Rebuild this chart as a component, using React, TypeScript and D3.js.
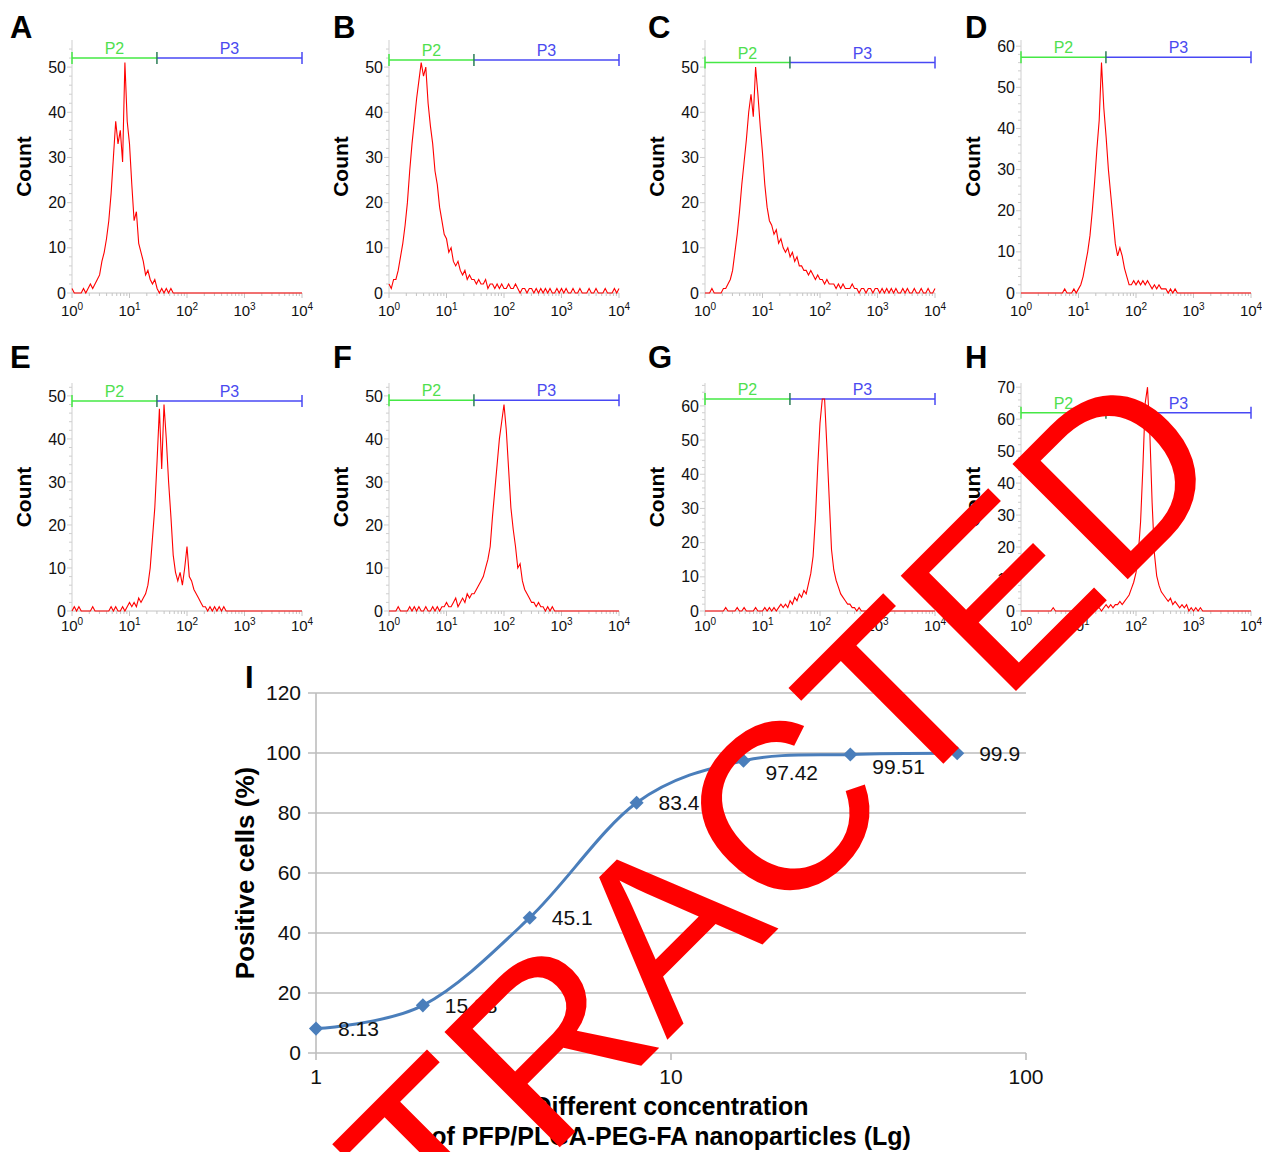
import { useEffect, useRef } from 'react';
import * as d3 from 'd3';

// flow cytometry histograms, one count per channel (channel i sits at 10^(i * channelStep))
const panelLetters = ['A', 'B', 'C', 'D', 'E', 'F', 'G', 'H'];
const channelStep = 0.04;

const countsA = [
  1, 0, 0, 0, 0, 1, 0, 1, 2, 1,
  2, 3, 4, 7, 9, 12, 16, 22, 30, 38,
  33, 36, 29, 51, 38, 33, 24, 16, 18, 11,
  9, 7, 4, 5, 3, 2, 3, 1, 0, 1,
  0, 1, 0, 1, 0, 0, 0, 0, 0, 0,
  0, 0, 0, 0, 0, 0, 0, 0, 0, 0,
  0, 0, 0, 0, 0, 0, 0, 0, 0, 0,
  0, 0, 0, 0, 0, 0, 0, 0, 0, 0,
  0, 0, 0, 0, 0, 0, 0, 0, 0, 0,
  0, 0, 0, 0, 0, 0, 0, 0, 0, 0,
  0,
];
const countsB = [
  2, 1, 3, 3, 5, 8, 11, 15, 20, 27,
  33, 38, 43, 47, 51, 48, 50, 42, 37, 33,
  27, 24, 19, 16, 13, 12, 9, 10, 7, 6,
  7, 5, 4, 5, 3, 4, 3, 3, 2, 3,
  2, 2, 3, 1, 2, 2, 1, 2, 1, 2,
  1, 1, 2, 1, 1, 2, 1, 0, 1, 1,
  0, 1, 1, 0, 1, 0, 1, 0, 1, 0,
  1, 0, 0, 1, 0, 1, 0, 1, 0, 0,
  1, 0, 0, 1, 0, 0, 0, 1, 0, 0,
  1, 0, 0, 0, 1, 0, 0, 0, 1, 0,
  1,
];
const countsC = [
  0, 0, 0, 1, 0, 0, 0, 0, 1, 1,
  2, 3, 5, 9, 13, 18, 24, 29, 34, 40,
  44, 39, 50, 44, 37, 31, 24, 19, 16, 15,
  13, 14, 11, 12, 10, 9, 10, 8, 9, 7,
  8, 6, 6, 5, 5, 4, 5, 4, 3, 4,
  3, 3, 2, 3, 2, 2, 2, 1, 2, 1,
  2, 1, 1, 1, 2, 1, 1, 0, 1, 1,
  0, 1, 1, 0, 1, 1, 0, 1, 0, 1,
  0, 1, 0, 1, 0, 0, 1, 0, 1, 0,
  0, 1, 0, 0, 1, 0, 0, 1, 0, 0,
  1,
];
const countsD = [
  0, 0, 0, 0, 0, 0, 0, 0, 0, 0,
  0, 0, 0, 0, 0, 0, 0, 0, 0, 1,
  0, 0, 0, 1, 0, 1, 2, 4, 7, 10,
  14, 20, 27, 35, 42, 56, 45, 38, 30, 24,
  18, 12, 9, 11, 9, 6, 4, 2, 2, 3,
  2, 3, 2, 3, 2, 3, 2, 1, 2, 1,
  2, 1, 1, 1, 0, 1, 0, 1, 0, 0,
  0, 0, 0, 0, 0, 0, 0, 0, 0, 0,
  0, 0, 0, 0, 0, 0, 0, 0, 0, 0,
  0, 0, 0, 0, 0, 0, 0, 0, 0, 0,
  0,
];
const countsE = [
  0, 1, 0, 1, 0, 0, 0, 0, 0, 1,
  0, 0, 0, 0, 0, 0, 0, 1, 0, 1,
  0, 0, 1, 0, 1, 2, 1, 2, 1, 3,
  2, 3, 4, 6, 10, 17, 24, 35, 47, 33,
  48, 40, 30, 22, 13, 9, 7, 9, 6, 10,
  15, 8, 7, 5, 4, 3, 2, 1, 1, 0,
  1, 0, 1, 0, 1, 0, 1, 0, 0, 0,
  0, 0, 0, 0, 0, 0, 0, 0, 0, 0,
  0, 0, 0, 0, 0, 0, 0, 0, 0, 0,
  0, 0, 0, 0, 0, 0, 0, 0, 0, 0,
  0,
];
const countsF = [
  0, 0, 0, 0, 1, 0, 0, 0, 0, 1,
  0, 1, 0, 1, 0, 0, 1, 0, 0, 1,
  0, 1, 0, 1, 1, 2, 1, 1, 2, 3,
  1, 2, 3, 2, 4, 3, 4, 4, 5, 6,
  7, 8, 10, 12, 15, 22, 28, 34, 40, 44,
  48, 42, 33, 24, 19, 15, 10, 11, 7, 5,
  4, 3, 2, 2, 1, 2, 1, 1, 0, 1,
  0, 1, 0, 0, 0, 0, 0, 0, 0, 0,
  0, 0, 0, 0, 0, 0, 0, 0, 0, 0,
  0, 0, 0, 0, 0, 0, 0, 0, 0, 0,
  0,
];
const countsG = [
  0, 0, 0, 0, 0, 0, 0, 0, 0, 1,
  0, 0, 0, 0, 1, 0, 0, 1, 0, 0,
  0, 0, 1, 0, 0, 0, 1, 0, 1, 0,
  1, 0, 1, 2, 1, 2, 1, 3, 2, 4,
  3, 5, 4, 6, 5, 8, 11, 16, 27, 42,
  55, 62, 62, 48, 33, 18, 12, 9, 7, 5,
  4, 3, 2, 2, 1, 1, 0, 1, 0, 0,
  0, 0, 0, 0, 0, 0, 0, 0, 0, 0,
  0, 0, 0, 0, 0, 0, 0, 0, 0, 0,
  0, 0, 0, 0, 0, 0, 0, 0, 0, 0,
  0,
];
const countsH = [
  0, 0, 0, 0, 0, 0, 0, 0, 0, 0,
  0, 0, 0, 0, 1, 0, 0, 0, 0, 0,
  0, 0, 0, 0, 0, 0, 0, 0, 0, 0,
  0, 1, 0, 1, 1, 0, 1, 2, 1, 2,
  1, 2, 2, 3, 2, 3, 4, 5, 7, 9,
  12, 18, 28, 45, 65, 70, 56, 34, 18, 11,
  8, 6, 5, 4, 3, 4, 2, 3, 2, 1,
  2, 1, 2, 0, 1, 0, 1, 0, 1, 0,
  0, 0, 0, 0, 0, 0, 0, 0, 0, 0,
  0, 0, 0, 0, 0, 0, 0, 0, 0, 0,
  0,
];
const panelCounts = [countsA, countsB, countsC, countsD, countsE, countsF, countsG, countsH];
const countMax = [56, 56, 56, 61.5, 53, 53, 66.7, 71.3];
const gateLevel = [52, 51.6, 51, 57.3, 48.8, 49, 62, 62];
const gateNames = ['P2', 'P3'];
const gateBounds = [1, 30, 10000];
const decadeTicks = [1, 10, 100, 1000, 10000];

// panel I
const concentration = [1, 2, 4, 8, 16, 32, 64];
const positiveCells = [8.13, 15.88, 45.1, 83.4, 97.42, 99.51, 99.9];
const percentTicks = [0, 20, 40, 60, 80, 100, 120];
const concentrationTicks = [1, 10, 100];

const FONT = 'Arial, "Liberation Sans", Helvetica, sans-serif';
const colX = [72, 389, 705, 1021];
const letterX = [10, 333, 648, 965];
const rowBase = [293, 611];
const rowTop = [40, 383];
const letterY = [38, 368];
const tickLabelDy = [23, 20];
const plotW = 230;

export default function App() {
  const ref = useRef<SVGSVGElement>(null);

  useEffect(() => {
    const svg = d3.select(ref.current);
    svg.selectAll('*').remove();

    panelCounts.forEach((counts, p) => {
      const col = p % 4;
      const row = Math.floor(p / 4);
      const x0 = colX[col];
      const yBase = rowBase[row];
      const yTop = rowTop[row];
      const x = d3.scaleLog().domain([1, 1e4]).range([x0, x0 + plotW]);
      const y = d3.scaleLinear().domain([0, countMax[p]]).range([yBase, yTop]);
      const g = svg.append('g').style('font-family', FONT);

      g.append('text')
        .attr('x', letterX[col]).attr('y', letterY[row])
        .attr('font-size', 31).attr('font-weight', 'bold')
        .text(panelLetters[p]);

      // y axis
      g.append('line')
        .attr('x1', x0).attr('x2', x0).attr('y1', yBase).attr('y2', yTop)
        .attr('stroke', '#cfcfcf');
      d3.range(0, countMax[p], 2).forEach(v => {
        g.append('line')
          .attr('x1', x0 - (v % 10 === 0 ? 5 : 3)).attr('x2', x0)
          .attr('y1', y(v)).attr('y2', y(v))
          .attr('stroke', '#cfcfcf');
      });
      d3.range(0, countMax[p], 10).forEach(v => {
        g.append('text')
          .attr('x', x0 - 6).attr('y', y(v)).attr('dy', '0.35em')
          .attr('text-anchor', 'end').attr('font-size', 16).attr('fill', '#111')
          .text(v);
      });
      g.append('text')
        .attr('transform', `translate(${x0 - 41},${(yBase + yTop) / 2}) rotate(-90)`)
        .attr('text-anchor', 'middle').attr('font-size', 21).attr('font-weight', 'bold')
        .text('Count');

      // x axis
      g.append('line')
        .attr('x1', x0).attr('x2', x0 + plotW).attr('y1', yBase).attr('y2', yBase)
        .attr('stroke', '#c4c4c4');
      decadeTicks.forEach((d, i) => {
        const mult = i < decadeTicks.length - 1 ? d3.range(2, 10) : [];
        mult.forEach(m => {
          g.append('line')
            .attr('x1', x(d * m)).attr('x2', x(d * m))
            .attr('y1', yBase).attr('y2', yBase + 3)
            .attr('stroke', '#c4c4c4');
        });
        g.append('line')
          .attr('x1', x(d)).attr('x2', x(d)).attr('y1', yBase).attr('y2', yBase + 5)
          .attr('stroke', '#c4c4c4');
        const t = g.append('text')
          .attr('x', x(d)).attr('y', yBase + tickLabelDy[row])
          .attr('text-anchor', 'middle').attr('font-size', 15).attr('fill', '#111');
        t.append('tspan').text('10');
        t.append('tspan').attr('font-size', 10).attr('dy', -6).text(String(Math.round(Math.log10(d))));
      });

      // gates
      const gy = y(gateLevel[p]);
      const gateColors = ['#45e845', '#4848f4'];
      const labelColors = ['#4fe04f', '#4a4af0'];
      gateNames.forEach((name, k) => {
        const a = gateBounds[k];
        const b = gateBounds[k + 1];
        g.append('line')
          .attr('x1', x(a)).attr('x2', x(b)).attr('y1', gy).attr('y2', gy)
          .attr('stroke', gateColors[k]).attr('stroke-width', 1.5);
        g.append('text')
          .attr('x', x(Math.sqrt(a * b))).attr('y', gy - 4)
          .attr('text-anchor', 'middle').attr('font-size', 16).attr('fill', labelColors[k])
          .text(name);
      });
      [[gateBounds[0], gateColors[0]], [gateBounds[1], '#2a7d55'], [gateBounds[2], gateColors[1]]].forEach(([v, c]) => {
        g.append('line')
          .attr('x1', x(v as number)).attr('x2', x(v as number))
          .attr('y1', gy - 6).attr('y2', gy + 6)
          .attr('stroke', c as string).attr('stroke-width', 1.5);
      });

      // histogram
      const line = d3.line<number>()
        .x((_, i) => x(Math.pow(10, i * channelStep)))
        .y(d => y(d));
      g.append('path')
        .attr('d', line(counts))
        .attr('fill', 'none').attr('stroke', '#ff0000').attr('stroke-width', 1.1)
        .attr('stroke-linejoin', 'miter');
    });

    // panel I
    const gi = svg.append('g').style('font-family', FONT);
    const xI = d3.scaleLog().domain([1, 100]).range([316, 1026]);
    const yI = d3.scaleLinear().domain([0, 120]).range([1053, 693]);

    gi.append('text').attr('x', 245).attr('y', 688)
      .attr('font-size', 31).attr('font-weight', 'bold').text('I');

    percentTicks.forEach(v => {
      gi.append('line')
        .attr('x1', 308).attr('x2', xI(100)).attr('y1', yI(v)).attr('y2', yI(v))
        .attr('stroke', '#bdbdbd').attr('stroke-width', 1.6);
      gi.append('text')
        .attr('x', 301).attr('y', yI(v)).attr('dy', '0.35em')
        .attr('text-anchor', 'end').attr('font-size', 21).attr('fill', '#111')
        .text(v);
    });
    gi.append('line')
      .attr('x1', xI(1)).attr('x2', xI(1)).attr('y1', yI(120)).attr('y2', yI(0))
      .attr('stroke', '#bdbdbd').attr('stroke-width', 1.6);
    concentrationTicks.forEach(v => {
      gi.append('line')
        .attr('x1', xI(v)).attr('x2', xI(v)).attr('y1', yI(0)).attr('y2', yI(0) + 7)
        .attr('stroke', '#bdbdbd').attr('stroke-width', 1.6);
      gi.append('text')
        .attr('x', xI(v)).attr('y', 1084)
        .attr('text-anchor', 'middle').attr('font-size', 21).attr('fill', '#111')
        .text(v);
    });

    const pts = concentration.map((c, i) => [xI(c), yI(positiveCells[i])] as [number, number]);
    gi.append('path')
      .attr('d', d3.line().curve(d3.curveCatmullRom.alpha(0))(pts))
      .attr('fill', 'none').attr('stroke', '#4a7ebb').attr('stroke-width', 3);
    pts.forEach(([px, py], i) => {
      gi.append('path')
        .attr('d', d3.symbol(d3.symbolSquare, 100)())
        .attr('transform', `translate(${px},${py}) rotate(45)`)
        .attr('fill', '#4a7ebb');
      const next = pts[i + 1];
      const shift = next && Math.abs(next[1] - py) < 15 ? 12 : 0;
      gi.append('text')
        .attr('x', px + 22).attr('y', py + shift).attr('dy', '0.35em')
        .attr('font-size', 21).attr('fill', '#111')
        .text(positiveCells[i]);
    });

    gi.append('text')
      .attr('transform', `translate(254,${yI(60)}) rotate(-90)`)
      .attr('text-anchor', 'middle').attr('font-size', 26).attr('font-weight', 'bold')
      .text('Positive cells (%)');
    gi.append('text')
      .attr('x', 671).attr('y', 1115).attr('text-anchor', 'middle')
      .attr('font-size', 25).attr('font-weight', 'bold')
      .text('Different concentration');
    gi.append('text')
      .attr('x', 671).attr('y', 1145).attr('text-anchor', 'middle')
      .attr('font-size', 25).attr('font-weight', 'bold')
      .text('of PFP/PLGA-PEG-FA nanoparticles (Lg)');

    // watermark
    svg.append('text')
      .attr('transform', 'translate(723,984) rotate(-45)')
      .attr('text-anchor', 'middle')
      .style('font-family', FONT)
      .attr('font-size', 237)
      .attr('fill', '#ff0000')
      .text('RETRACTED');
  }, []);

  return (
    <svg
      ref={ref}
      width={1262}
      height={1152}
      style={{ position: 'absolute', left: 0, top: 0, background: '#fff' }}
    />
  );
}
